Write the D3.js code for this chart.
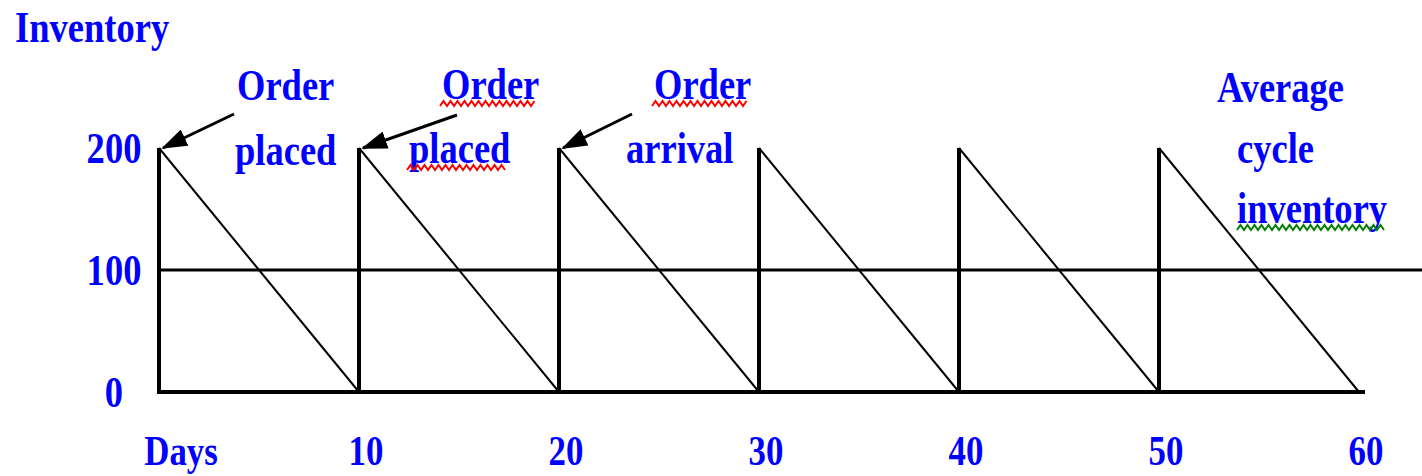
<!DOCTYPE html>
<html>
<head>
<meta charset="utf-8">
<script src="https://cdn.jsdelivr.net/npm/d3@7"></script>
<style>
  body { margin: 0; background: #fff; }
  svg text { font-family: "Liberation Serif", "Times New Roman", serif; font-weight: bold; fill: #0000ff; }
</style>
</head>
<body>
<div class="chart"></div>
<script>
// data
const cycleStart = [0, 10, 20, 30, 40, 50];
const cycleEnd = [10, 20, 30, 40, 50, 60];
const orderQty = [200, 200, 200, 200, 200, 200];
const averageInventory = 100;
const yTicks = [0, 100, 200];
const xTicks = [0, 10, 20, 30, 40, 50, 60];
const xTickLabels = ["Days", "10", "20", "30", "40", "50", "60"];
const yTitle = "Inventory";
const arrowDays = [0, 10, 20];
const arrowLines = [["Order", "placed"], ["Order", "placed"], ["Order", "arrival"]];
const averageLines = ["Average", "cycle", "inventory"];

const width = 1422, height = 476;
const squash = 0.83; // text is narrow in the original

const svg = d3.select(".chart").append("svg")
  .attr("width", width)
  .attr("height", height);

const x = d3.scaleLinear().domain([0, 60]).range([159, 1359]);
const y = d3.scaleLinear().domain([0, 200]).range([392, 148]);

function label(txt, px, py, anchor, size) {
  const t = svg.append("text")
    .attr("font-size", size || 44)
    .attr("text-anchor", anchor || "start")
    .attr("transform", `translate(${px},${py}) scale(${squash},1)`)
    .text(txt);
  return t;
}

function squiggle(t, px, py, color) {
  const w = t.node().getComputedTextLength() * squash;
  const pts = d3.range(0, Math.floor(w / 3.5) + 1).map(i => [px + i * 3.5, py + (i % 2 ? 2 : 7)]);
  svg.append("path")
    .attr("d", d3.line()(pts))
    .attr("fill", "none")
    .attr("stroke", color)
    .attr("stroke-width", 2);
}

//Average line
svg.append("line")
  .attr("x1", x(0)).attr("x2", width)
  .attr("y1", y(averageInventory)).attr("y2", y(averageInventory))
  .attr("stroke", "#000").attr("stroke-width", 3);

//Sawtooth
cycleStart.forEach((d, i) => {
  svg.append("line")
    .attr("x1", x(d)).attr("x2", x(d))
    .attr("y1", y(0)).attr("y2", y(orderQty[i]))
    .attr("stroke", "#000").attr("stroke-width", 4);
  svg.append("line")
    .attr("x1", x(d)).attr("y1", y(orderQty[i]))
    .attr("x2", x(cycleEnd[i])).attr("y2", y(0))
    .attr("stroke", "#000").attr("stroke-width", 2);
});

//Baseline
svg.append("line")
  .attr("x1", x(0) - 2).attr("x2", x(60) + 6)
  .attr("y1", y(0)).attr("y2", y(0))
  .attr("stroke", "#000").attr("stroke-width", 4);

//Axis labels
label(yTitle, 15, 42);
yTicks.forEach(d => label(String(d), 114, y(d) + 15, "middle"));
xTicks.forEach((d, i) => label(xTickLabels[i], d === 0 ? x(d) + 22 : x(d) + 7, 465, "middle", 42));

//Arrows
svg.append("defs").append("marker")
  .attr("id", "head")
  .attr("markerUnits", "userSpaceOnUse")
  .attr("viewBox", "0 0 26 18")
  .attr("refX", 24).attr("refY", 9)
  .attr("markerWidth", 26).attr("markerHeight", 18)
  .attr("orient", "auto")
  .append("path")
  .attr("d", "M0,0 L26,9 L0,18 Z")
  .attr("fill", "#000");

const arrowFrom = [[75, -34], [98, -33], [73, -34]];
const textPos = [[[78, 100], [76, 165]], [[83, 99], [50, 163]], [[95, 99], [67, 163]]];
const flagged = [[false, false], [true, true], [true, false]];

arrowDays.forEach((d, i) => {
  svg.append("line")
    .attr("x1", x(d) + arrowFrom[i][0]).attr("y1", y(200) + arrowFrom[i][1])
    .attr("x2", x(d) + 4).attr("y2", y(200))
    .attr("stroke", "#000").attr("stroke-width", 3)
    .attr("marker-end", "url(#head)");
  arrowLines[i].forEach((txt, j) => {
    const px = x(d) + textPos[i][j][0], py = textPos[i][j][1];
    const t = label(txt, px, py);
    if (flagged[i][j]) squiggle(t, px - 2, py, "#ff0000");
  });
});

//Average annotation
const avgPos = [[58, 102], [78, 163], [78, 223]];
averageLines.forEach((txt, j) => {
  const px = x(50) + avgPos[j][0], py = avgPos[j][1];
  const t = label(txt, px, py);
  if (txt === "inventory") squiggle(t, px, py, "#008000");
});
</script>
</body>
</html>
